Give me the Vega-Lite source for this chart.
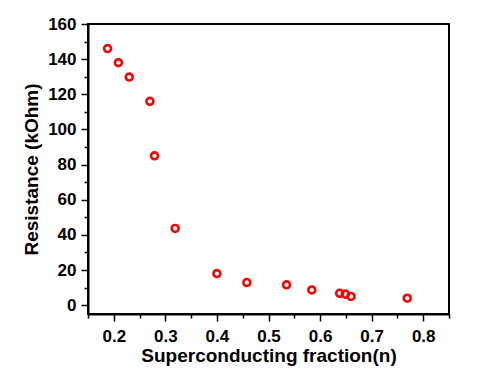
{
  "$schema": "https://vega.github.io/schema/vega-lite/v6.json",
  "width": 361,
  "height": 290,
  "autosize": {"type": "none"},
  "padding": {"left": 88, "top": 24, "right": 51, "bottom": 61},
  "background": "white",
  "config": {
    "view": {"stroke": "black", "strokeWidth": 2},
    "axis": {
      "domainColor": "black", "domainWidth": 2, "tickColor": "black", "tickWidth": 1.5,
      "labelFont": "Liberation Sans", "labelFontWeight": "bold", "labelFontSize": 17, "labelColor": "black",
      "titleFont": "Liberation Sans", "titleFontWeight": "bold", "titleFontSize": 19, "titleColor": "black",
      "grid": false
    }
  },
  "data": {"values": [
    {"n": 0.188, "R": 146.0},
    {"n": 0.209, "R": 138.0},
    {"n": 0.230, "R": 129.8},
    {"n": 0.270, "R": 116.0},
    {"n": 0.279, "R": 85.0},
    {"n": 0.319, "R": 43.7},
    {"n": 0.400, "R": 18.0},
    {"n": 0.458, "R": 12.9},
    {"n": 0.535, "R": 11.6},
    {"n": 0.584, "R": 8.7},
    {"n": 0.638, "R": 6.8},
    {"n": 0.649, "R": 6.3},
    {"n": 0.660, "R": 5.0},
    {"n": 0.769, "R": 4.0}
  ]},
  "layer": [
    {
      "mark": {"type": "point", "opacity": 0},
      "encoding": {
        "x": {"field": "n", "type": "quantitative", "scale": {"domain": [0.15, 0.85], "nice": false, "zero": false},
          "axis": {"orient": "bottom", "values": [0.15, 0.25, 0.35, 0.45, 0.55, 0.65, 0.75, 0.85], "labels": false, "domain": false, "tickSize": 4, "title": null}},
        "y": {"field": "R", "type": "quantitative", "scale": {"domain": [-5, 160], "nice": false, "zero": false},
          "axis": {"orient": "left", "values": [10, 30, 50, 70, 90, 110, 130, 150], "labels": false, "domain": false, "tickSize": 4, "title": null}}
      }
    },
    {
      "mark": {"type": "point", "filled": false, "color": "#ff0000", "strokeWidth": 2.6, "size": 48, "opacity": 1},
      "encoding": {
        "x": {"field": "n", "type": "quantitative", "scale": {"domain": [0.15, 0.85], "nice": false, "zero": false},
          "axis": {"orient": "bottom", "values": [0.2, 0.3, 0.4, 0.5, 0.6, 0.7, 0.8], "format": ".1f", "tickSize": 7, "labelPadding": 7, "title": "Superconducting fraction(n)", "titlePadding": 2}},
        "y": {"field": "R", "type": "quantitative", "scale": {"domain": [-5, 160], "nice": false, "zero": false},
          "axis": {"orient": "left", "values": [0, 20, 40, 60, 80, 100, 120, 140, 160], "tickSize": 7, "labelPadding": 5, "title": "Resistance (kOhm)", "titlePadding": 6}}
      }
    }
  ],
  "resolve": {"axis": {"x": "independent", "y": "independent"}}
}
